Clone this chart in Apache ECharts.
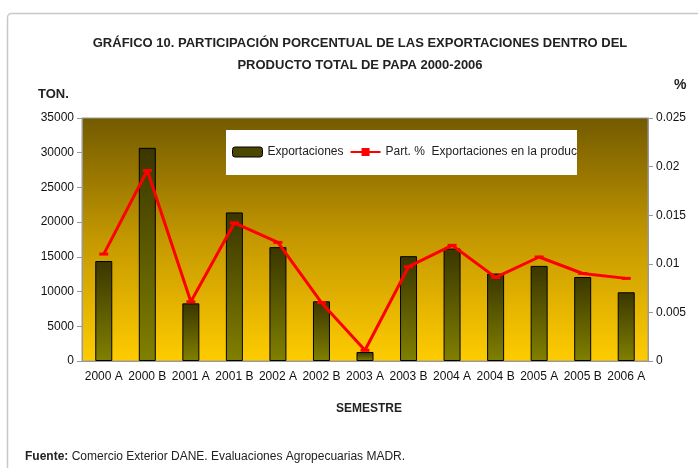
<!DOCTYPE html>
<html>
<head>
<meta charset="utf-8">
<script src="https://cdn.jsdelivr.net/npm/echarts@6/dist/echarts.min.js"></script>
<style>
  html, body { margin: 0; padding: 0; background: #fff; }
  #chart { width: 698px; height: 468px; }
</style>
</head>
<body>
<div id="chart"></div>
<script>
const semestres = ['2000 A', '2000 B', '2001 A', '2001 B', '2002 A', '2002 B', '2003 A',
  '2003 B', '2004 A', '2004 B', '2005 A', '2005 B', '2006 A']
const exportaciones = [14400, 30700, 8300, 21400, 16400, 8600, 1300, 15100, 16200, 12600, 13700, 12100, 9900]
const participacion = [0.0110, 0.0196, 0.0061, 0.0142, 0.0122, 0.0060, 0.0011, 0.0097, 0.0119, 0.0086, 0.0107, 0.0090, 0.0085]

const narrow = '"Liberation Sans Narrow", "Arial Narrow", "Liberation Sans", Arial, sans-serif'
const plain = '"Liberation Sans", Arial, sans-serif'

const chart = echarts.init(document.getElementById('chart'))

chart.setOption({
  animation: false,
  title: {
    text: 'GRÁFICO 10. PARTICIPACIÓN PORCENTUAL DE LAS EXPORTACIONES DENTRO DEL\nPRODUCTO TOTAL DE PAPA 2000-2006',
    left: 355,
    top: 27,
    textAlign: 'center',
    textStyle: { fontFamily: narrow, fontSize: 13, fontWeight: 'bold', color: '#222', lineHeight: 22 }
  },
  graphic: [
    {
      type: 'rect', left: 5, top: 11,
      shape: { width: 700, height: 470, r: 4 },
      style: { fill: 'none', stroke: '#c8c8c8', lineWidth: 1.5 },
      z: -1
    },
    {
      type: 'text', left: 38, top: 88,
      style: { text: 'TON.', font: 'bold 13px ' + narrow, fill: '#222' }
    },
    {
      type: 'text', left: 674, top: 78,
      style: { text: '%', font: 'bold 14px ' + narrow, fill: '#222' }
    },
    {
      type: 'text', left: 336, top: 403,
      style: { text: 'SEMESTRE', font: 'bold 12px ' + narrow, fill: '#222' }
    },
    {
      type: 'text', left: 25, top: 451,
      style: {
        text: '{b|Fuente:} Comercio Exterior DANE. Evaluaciones Agropecuarias MADR.',
        font: '12px ' + narrow, fill: '#222',
        rich: { b: { fontWeight: 'bold', fontFamily: narrow, fontSize: 12, fill: '#222' } }
      }
    }
  ],
  legend: {
    left: 226, top: 130,
    width: 356,
    backgroundColor: '#fff',
    padding: [16, 0, 17, 6],
    itemGap: 6,
    itemWidth: 30, itemHeight: 10,
    textStyle: { fontFamily: narrow, fontSize: 12, color: '#222' },
    data: [
      { name: 'Exportaciones', itemStyle: { color: '#4a4700', borderColor: '#000', borderWidth: 1 } },
      { name: 'Part. %  Exportaciones en la producción', textStyle: { width: 196, overflow: 'truncate', ellipsis: '' } }
    ]
  },
  grid: {
    left: 82, right: 50, top: 118, bottom: 107,
    show: true,
    borderColor: '#999',
    borderWidth: 1,
    backgroundColor: new echarts.graphic.LinearGradient(0, 0, 0, 1, [
      { offset: 0, color: '#725a00' },
      { offset: 0.5, color: '#c49800' },
      { offset: 1, color: '#ffcc00' }
    ])
  },
  xAxis: {
    type: 'category',
    data: semestres,
    axisLine: { lineStyle: { color: '#999' } },
    axisTick: { lineStyle: { color: '#999' }, length: 5 },
    axisLabel: { interval: 0, color: '#111', fontFamily: plain, fontSize: 12, margin: 10 }
  },
  yAxis: [
    {
      type: 'value', min: 0, max: 35000, interval: 5000,
      splitLine: { show: false },
      axisLine: { show: true, lineStyle: { color: '#999' } },
      axisTick: { show: true, lineStyle: { color: '#999' }, length: 5 },
      axisLabel: { color: '#111', fontFamily: plain, fontSize: 12, margin: 8, formatter: v => String(v) }
    },
    {
      type: 'value', min: 0, max: 0.025, interval: 0.005,
      splitLine: { show: false },
      axisLine: { show: true, lineStyle: { color: '#999' } },
      axisTick: { show: true, lineStyle: { color: '#999' }, length: 5 },
      axisLabel: { color: '#111', fontFamily: plain, fontSize: 12, margin: 8, formatter: v => String(+v.toFixed(3)) }
    }
  ],
  series: [
    {
      name: 'Exportaciones',
      type: 'bar',
      barWidth: 17,
      data: exportaciones,
      itemStyle: {
        borderColor: '#000',
        borderWidth: 1,
        color: new echarts.graphic.LinearGradient(0, 0, 0, 1, [
          { offset: 0, color: '#3a3600' },
          { offset: 1, color: '#808000' }
        ])
      }
    },
    {
      name: 'Part. %  Exportaciones en la producción',
      type: 'line',
      yAxisIndex: 1,
      data: participacion,
      symbol: 'rect',
      symbolSize: [9, 3],
      itemStyle: { color: '#ff0000' },
      lineStyle: { color: '#ff0000', width: 3 }
    }
  ]
})
</script>
</body>
</html>
